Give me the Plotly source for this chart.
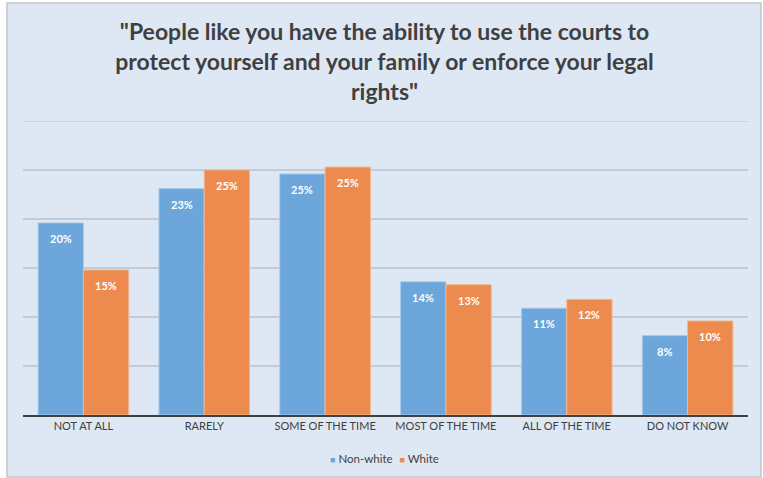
import plotly.graph_objects as go

categories = ["NOT AT ALL", "RARELY", "SOME OF THE TIME", "MOST OF THE TIME",
              "ALL OF THE TIME", "DO NOT KNOW"]
non_white = [19.6, 23.1, 24.6, 13.6, 10.9, 8.1]
white = [14.8, 25.0, 25.3, 13.3, 11.8, 9.6]
series_names = ["Non-white", "White"]
y_ticks = [0, 5, 10, 15, 20, 25, 30]

title_text = ('"People like you have the ability to use the courts to<br>'
              'protect yourself and your family or enforce your legal<br>'
              'rights"')

BLUE = "#6CA6DA"
ORANGE = "#EC8B4D"
BG = "#DEE8F4"
TEXT = "#404040"
GRID = "#C3CCD6"
FONT = "Lato"

fig = go.Figure()
fig.add_trace(go.Bar(x=categories, y=non_white, name=series_names[0],
                     marker=dict(color=BLUE, line=dict(color="#A9CBEA", width=1))))
fig.add_trace(go.Bar(x=categories, y=white, name=series_names[1],
                     marker=dict(color=ORANGE, line=dict(color="#F4B690", width=1))))

# value labels just inside the top of each bar
bar_offset = 22.6
for vals, shift in ((non_white, -bar_offset), (white, bar_offset)):
    for cat, v in zip(categories, vals):
        fig.add_annotation(x=cat, y=v, text=f"{v:.0f}%", showarrow=False,
                           xshift=shift, yshift=-7, yanchor="top",
                           font=dict(family=FONT, size=11, color="white", weight="bold"))

# plot area geometry in pixels
L, T, W, H = 23, 121, 725, 294
def px_x(p):
    return (p - L) / W
def px_y(p):
    return (T + H - p) / H

# light blue chart panel with a thin grey frame
fig.add_shape(type="rect", xref="paper", yref="paper",
              x0=px_x(7), x1=px_x(761), y0=px_y(477), y1=px_y(3),
              fillcolor=BG, line=dict(color="#C4C4C4", width=1.5), layer="below")

# gridline at the top of the value range
fig.add_shape(type="line", xref="paper", yref="y", x0=0, x1=1,
              y0=y_ticks[-1], y1=y_ticks[-1], line=dict(color=GRID, width=1.5),
              layer="below")

# compact legend: small colour squares hugging the series names
legend_html = "&nbsp;&nbsp;&nbsp;".join(
    f"<span style='color:{c}'>■</span><span style='font-size:11.5px'> {n}</span>"
    for c, n in zip((BLUE, ORANGE), series_names))
fig.add_annotation(xref="paper", yref="paper", x=px_x(384), y=px_y(458),
                   text=legend_html, showarrow=False, xanchor="center", yanchor="middle",
                   font=dict(family=FONT, size=9, color=TEXT))

fig.update_layout(
    width=763, height=478,
    margin=dict(l=L, r=763 - L - W, t=T, b=478 - T - H, autoexpand=False),
    paper_bgcolor="white",
    plot_bgcolor="rgba(0,0,0,0)",
    barmode="group", bargap=0.25, bargroupgap=0,
    title=dict(text=title_text, x=0.504, xanchor="center", y=0.916, yanchor="top",
               font=dict(family=FONT, size=23, color=TEXT, weight="bold")),
    font=dict(family=FONT, color=TEXT),
    showlegend=False,
)
fig.update_xaxes(showline=True, linecolor=TEXT, linewidth=2, ticks="",
                 tickfont=dict(family=FONT, size=11, color=TEXT))
fig.update_yaxes(range=[0, 30], tickvals=y_ticks, showticklabels=False,
                 showgrid=True, gridcolor=GRID, gridwidth=1.5, zeroline=False)

fig.write_html("out.html")
